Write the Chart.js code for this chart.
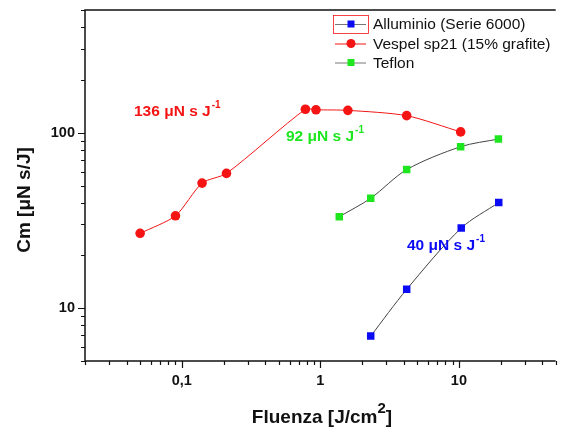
<!DOCTYPE html>
<html>
<head>
<meta charset="utf-8">
<script src="https://cdn.jsdelivr.net/npm/chart.js@4"></script>
<style>
  html, body { margin: 0; padding: 0; background: #fff; }
  #wrap { width: 561px; height: 430px; }
</style>
</head>
<body>
<div id="wrap"><canvas id="cm"></canvas></div>
<script>
// fluence [J/cm2] and coupling coefficient Cm [uN s/J]
const vespelX = [0.05, 0.09, 0.14, 0.21, 0.78, 0.93, 1.58, 4.2, 10.3];
const vespelY = [26.7, 33.6, 51.6, 58.6, 136, 135, 134, 125, 101];
const teflonX = [1.37, 2.31, 4.2, 10.3, 19.3];
const teflonY = [33.2, 42.3, 61.6, 83.2, 92];
const alluX = [2.31, 4.2, 10.4, 19.4];
const alluY = [6.93, 12.8, 28.6, 40];

const xTicks = [0.1, 1, 10];
const xTickText = ["0,1", "1", "10"];
const yTicks = [10, 100];
const yTickText = ["10", "100"];

const legendNames = ["Alluminio (Serie 6000)", "Vespel sp21 (15% grafite)", "Teflon"];

const BLUE = "#0a0af5";
const RED = "#f41414";
const GREEN = "#1ee61e";
const FONT = "'Liberation Sans', Arial, sans-serif";

const pts = (xs, ys) => xs.map((x, i) => ({ x: x, y: ys[i] }));

// axes, ticks, titles, legend and the peak labels
const frame = {
  id: "frame",
  afterDatasetsDraw(chart) {
    const ctx = chart.ctx;
    const a = chart.chartArea;
    const sx = chart.scales.x, sy = chart.scales.y;
    ctx.save();

    ctx.strokeStyle = "#111";
    ctx.lineWidth = 1.5;
    ctx.beginPath();
    ctx.moveTo(a.right, a.top);
    ctx.lineTo(a.left, a.top);
    ctx.lineTo(a.left, a.bottom);
    ctx.lineTo(a.right, a.bottom);
    ctx.stroke();

    // log ticks, major at decades
    ctx.lineWidth = 1.2;
    ctx.beginPath();
    for (let e = -2; e <= 1; e++) {
      for (let m = 1; m <= 9; m++) {
        const v = m * Math.pow(10, e);
        if (v < sx.min || v > sx.max) continue;
        const px = Math.round(sx.getPixelForValue(v)) + 0.5;
        ctx.moveTo(px, a.bottom);
        ctx.lineTo(px, a.bottom + (m === 1 ? 7 : 4));
      }
    }
    for (let e = 0; e <= 2; e++) {
      for (let m = 1; m <= 9; m++) {
        const v = m * Math.pow(10, e);
        if (v < sy.min || v > sy.max) continue;
        const py = Math.round(sy.getPixelForValue(v)) + 0.5;
        ctx.moveTo(a.left, py);
        ctx.lineTo(a.left - (m === 1 ? 7 : 4), py);
      }
    }
    ctx.stroke();

    ctx.fillStyle = "#111";
    ctx.font = "bold 14.5px " + FONT;
    ctx.textAlign = "center";
    ctx.textBaseline = "middle";
    xTicks.forEach((v, i) => ctx.fillText(xTickText[i], sx.getPixelForValue(v), a.bottom + 20));
    ctx.textAlign = "right";
    yTicks.forEach((v, i) => ctx.fillText(yTickText[i], a.left - 10, sy.getPixelForValue(v)));

    // axis titles
    ctx.font = "bold 19px " + FONT;
    ctx.textAlign = "left";
    const t1 = "Fluenza [J/cm", t2 = "]";
    const w1 = ctx.measureText(t1).width;
    ctx.font = "bold 15px " + FONT;
    const w2 = ctx.measureText("2").width;
    ctx.font = "bold 19px " + FONT;
    const w3 = ctx.measureText(t2).width;
    const x0 = 322 - (w1 + w2 + w3) / 2;
    ctx.fillText(t1, x0, 418);
    ctx.fillText(t2, x0 + w1 + w2, 418);
    ctx.font = "bold 15px " + FONT;
    ctx.fillText("2", x0 + w1, 409);

    ctx.save();
    ctx.translate(25, 200);
    ctx.rotate(-Math.PI / 2);
    ctx.textAlign = "center";
    ctx.font = "bold 19px " + FONT;
    ctx.fillText("Cm [\u03bcN s/J]", 0, 0);
    ctx.restore();

    // legend
    const lx = 333, rows = [24, 43.5, 62.5];
    const lineCol = ["#777", RED, "#777"];
    const markCol = [BLUE, RED, GREEN];
    ctx.font = "15.5px " + FONT;
    ctx.textAlign = "left";
    rows.forEach((ry, i) => {
      ctx.strokeStyle = lineCol[i];
      ctx.lineWidth = 1;
      ctx.beginPath();
      ctx.moveTo(lx + 2, ry + 0.5);
      ctx.lineTo(lx + 33, ry + 0.5);
      ctx.stroke();
      ctx.fillStyle = markCol[i];
      if (i === 1) {
        ctx.beginPath();
        ctx.arc(lx + 18, ry, 4.5, 0, Math.PI * 2);
        ctx.fill();
      } else {
        ctx.fillRect(lx + 14.5, ry - 3.5, 7, 7);
      }
      ctx.fillStyle = "#111";
      ctx.fillText(legendNames[i], lx + 40, ry + 1);
    });
    ctx.strokeStyle = RED;
    ctx.lineWidth = 0.8;
    ctx.strokeRect(lx + 0.5, 15.5, 35, 18);

    // peak values
    const note = (txt, x, y, col) => {
      ctx.fillStyle = col;
      ctx.font = "bold 15.5px " + FONT;
      ctx.textAlign = "left";
      ctx.fillText(txt, x, y);
      const w = ctx.measureText(txt).width;
      ctx.font = "bold 10px " + FONT;
      ctx.fillText("-1", w + x + 1, y - 7);
    };
    note("136 \u03bcN s J", 134, 112, RED);
    note("92 \u03bcN s J", 286, 137, GREEN);
    note("40 \u03bcN s J", 407, 246, BLUE);

    ctx.restore();
  }
};

new Chart(document.getElementById("cm"), {
  type: "scatter",
  data: {
    datasets: [
      {
        label: legendNames[0],
        data: pts(alluX, alluY),
        showLine: true,
        borderColor: "#444",
        borderWidth: 1,
        pointStyle: "rect",
        pointRadius: 5.3,
        pointBackgroundColor: BLUE,
        pointBorderWidth: 0,
        tension: 0.3,
      },
      {
        label: legendNames[1],
        data: pts(vespelX, vespelY),
        showLine: true,
        borderColor: RED,
        borderWidth: 1,
        pointStyle: "circle",
        pointRadius: 4.8,
        pointBackgroundColor: RED,
        pointBorderWidth: 0,
        tension: 0.25,
      },
      {
        label: legendNames[2],
        data: pts(teflonX, teflonY),
        showLine: true,
        borderColor: "#444",
        borderWidth: 1,
        pointStyle: "rect",
        pointRadius: 5.3,
        pointBackgroundColor: GREEN,
        pointBorderWidth: 0,
        tension: 0.3,
      },
    ],
  },
  options: {
    responsive: true,
    maintainAspectRatio: false,
    animation: false,
    layout: { padding: { left: 85, top: 10, right: 0, bottom: 69 } },
    plugins: { legend: { display: false }, tooltip: { enabled: false } },
    scales: {
      x: { type: "logarithmic", min: 0.02, max: 50, display: false },
      y: { type: "logarithmic", min: 5, max: 500, display: false },
    },
  },
  plugins: [frame],
});
</script>
</body>
</html>
